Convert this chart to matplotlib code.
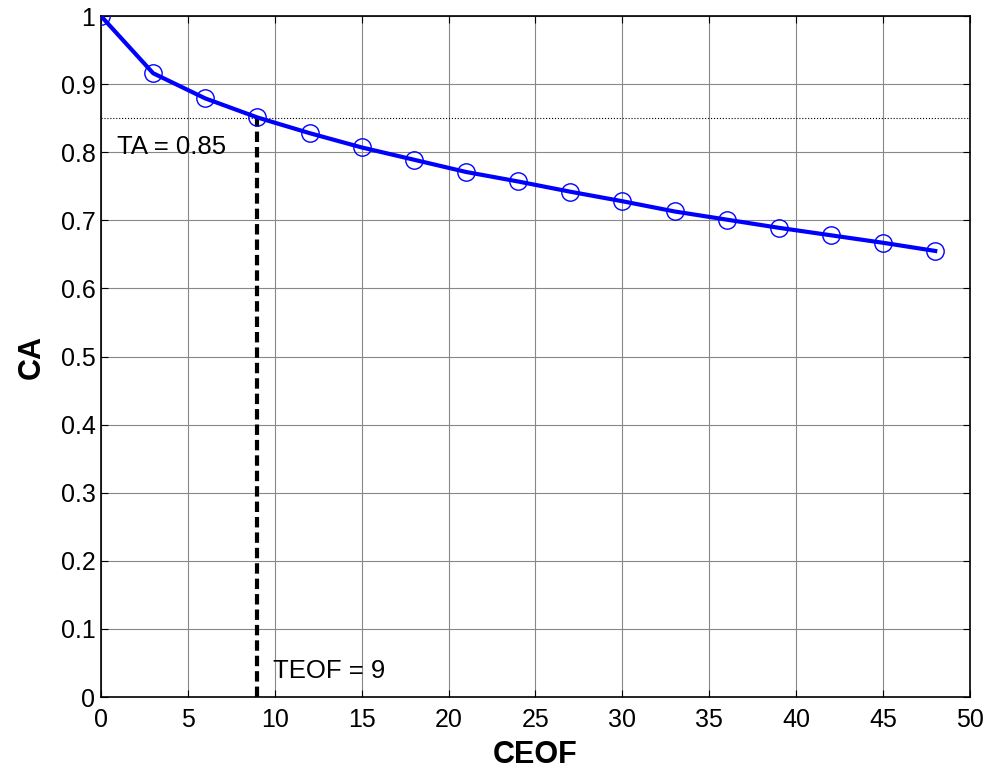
import matplotlib.pyplot as plt
import numpy as np

plt.rcParams['font.family'] = ['Liberation Sans', 'DejaVu Sans']

# Number of CEOFs vs cumulative accuracy
ceof = [0, 3, 6, 9, 12, 15, 18, 21, 24, 27, 30, 33, 36, 39, 42, 45, 48]
ca = [1.0, 0.916, 0.879, 0.851, 0.828, 0.807, 0.789, 0.771, 0.757, 0.742,
      0.728, 0.713, 0.701, 0.689, 0.678, 0.667, 0.655]
ta = 0.85
teof = 9

fig = plt.figure(figsize=(9.85, 7.73), dpi=100)
ax = fig.add_axes([0.1025, 0.0983, 0.8823, 0.881])

ax.plot(ceof, ca, '-', color='#0000ff', lw=3, zorder=3)
ax.plot(ceof, ca, 'o', mfc='none', mec='#0000ff', ms=12.5, mew=1, zorder=4)

ax.axhline(ta, color='black', lw=0.8, ls=':', zorder=2)
ax.plot([teof, teof], [0, ta], color='black', lw=3, ls=(0, (2.5, 1.2)), zorder=2)

ax.text(0.9, 0.808, 'TA = 0.85', fontsize=18.5, va='center')
ax.text(9.9, 0.038, 'TEOF = 9', fontsize=18.5, va='center')

ax.set_xlim(0, 50)
ax.set_ylim(0, 1)
ax.set_xticks(np.arange(0, 51, 5))
ax.set_yticks(np.arange(0, 1.01, 0.1))
ax.set_yticklabels(['0', '0.1', '0.2', '0.3', '0.4', '0.5', '0.6', '0.7', '0.8', '0.9', '1'])
ax.grid(True, color='#888888', lw=0.8)
ax.tick_params(direction='in', top=True, right=True, labelsize=18, length=5, pad=4)
ax.tick_params(axis='x', pad=8)
for s in ax.spines.values():
    s.set_linewidth(1.2)

ax.set_xlabel('CEOF', fontsize=22, fontweight='bold', labelpad=6)
ax.set_ylabel('CA', fontsize=22, fontweight='bold', labelpad=10)

fig.savefig('out.png', dpi=100)
